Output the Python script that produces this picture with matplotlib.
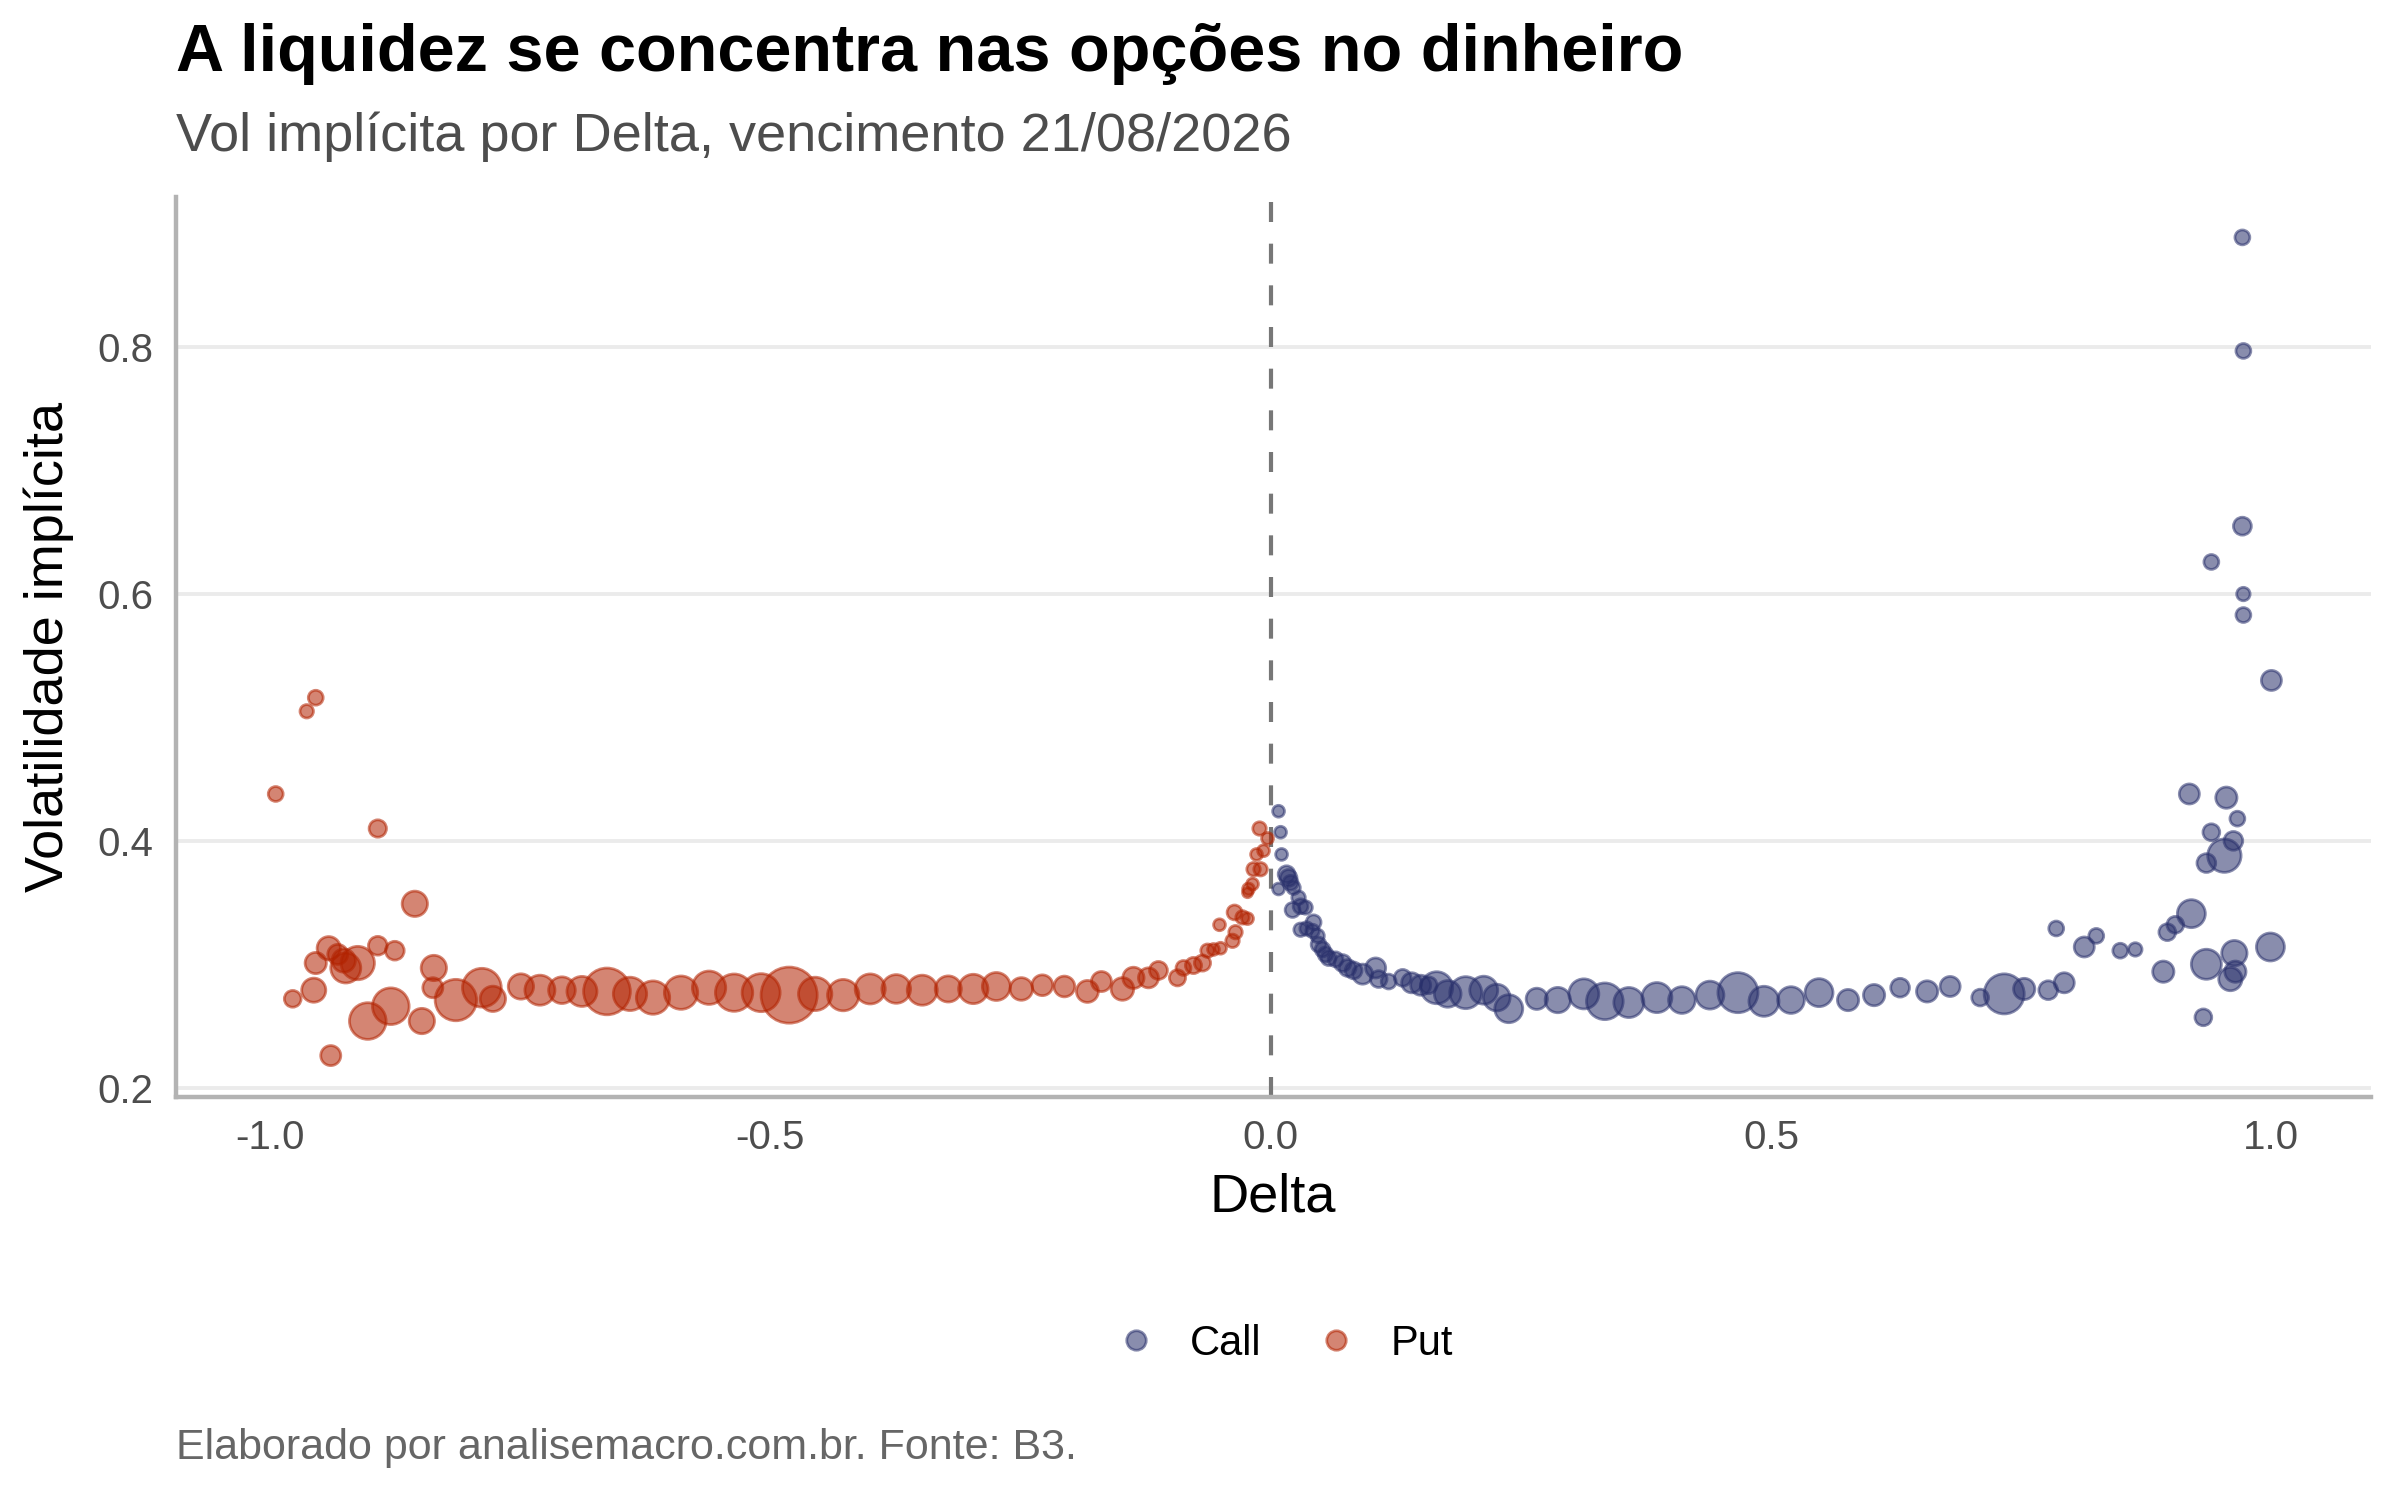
import numpy as np
import matplotlib.pyplot as plt

plt.rcParams['font.family'] = ['Liberation Sans', 'DejaVu Sans']

# Puts: delta, vol implicita, liquidez (numero de negocios, estimado)
put_delta = [-0.994, -0.977, -0.963, -0.956, -0.954, -0.954, -0.941, -0.939, -0.932, -0.926,
             -0.924, -0.912, -0.902, -0.892, -0.892, -0.879, -0.875, -0.855, -0.848, -0.837,
             -0.836, -0.814, -0.788, -0.777, -0.749, -0.730, -0.708, -0.688, -0.663, -0.640,
             -0.617, -0.589, -0.561, -0.536, -0.509, -0.481, -0.455, -0.427, -0.400, -0.374,
             -0.348, -0.322, -0.297, -0.274, -0.249, -0.228, -0.206, -0.183, -0.169, -0.148,
             -0.137, -0.122, -0.112, -0.093, -0.087, -0.077, -0.068, -0.063, -0.057, -0.050,
             -0.051, -0.038, -0.035, -0.036, -0.028, -0.023, -0.023, -0.022, -0.018, -0.017,
             -0.010, -0.014, -0.007, -0.003, -0.011]
put_iv = [0.438, 0.272, 0.505, 0.279, 0.516, 0.301, 0.313, 0.226, 0.308, 0.303,
          0.297, 0.301, 0.254, 0.410, 0.315, 0.266, 0.311, 0.349, 0.254, 0.281,
          0.297, 0.271, 0.281, 0.272, 0.282, 0.279, 0.279, 0.278, 0.278, 0.276,
          0.273, 0.277, 0.281, 0.277, 0.277, 0.275, 0.276, 0.275, 0.280, 0.280,
          0.279, 0.280, 0.280, 0.282, 0.280, 0.283, 0.282, 0.278, 0.286, 0.280,
          0.289, 0.289, 0.295, 0.289, 0.297, 0.299, 0.301, 0.311, 0.312, 0.313,
          0.332, 0.319, 0.326, 0.342, 0.338, 0.337, 0.358, 0.361, 0.365, 0.377,
          0.377, 0.389, 0.392, 0.402, 0.410]
put_liq = [22, 28, 18, 58, 22, 45, 54, 40, 40, 54,
           90, 111, 134, 30, 35, 134, 35, 64, 64, 40,
           64, 171, 150, 64, 64, 90, 71, 90, 218, 111,
           111, 111, 111, 139, 144, 314, 111, 98, 90, 82,
           90, 68, 86, 78, 51, 43, 43, 48, 40, 51,
           45, 40, 32, 26, 22, 26, 26, 18, 14, 14,
           14, 18, 18, 22, 18, 14, 10, 14, 14, 18,
           18, 14, 14, 14, 18]

# Calls
call_delta = [0.008, 0.010, 0.011, 0.008, 0.016, 0.018, 0.020, 0.023, 0.028, 0.022,
              0.030, 0.035, 0.030, 0.036, 0.043, 0.042, 0.047, 0.048, 0.052, 0.055,
              0.058, 0.065, 0.072, 0.077, 0.083, 0.092, 0.105, 0.108, 0.118, 0.132,
              0.141, 0.150, 0.158, 0.166, 0.177, 0.195, 0.213, 0.226, 0.238, 0.266,
              0.287, 0.313, 0.334, 0.358, 0.386, 0.411, 0.439, 0.467, 0.493, 0.520,
              0.548, 0.577, 0.603, 0.629, 0.656, 0.679, 0.709, 0.733, 0.753, 0.777,
              0.785, 0.793, 0.813, 0.825, 0.849, 0.864, 0.892, 0.896, 0.904, 0.918,
              0.920, 0.932, 0.935, 0.935, 0.940, 0.940, 0.953, 0.955, 0.959, 0.962,
              0.963, 0.964, 0.966, 0.971, 0.972, 0.971, 0.972, 0.972, 1.000, 0.999]
call_iv = [0.424, 0.407, 0.389, 0.361, 0.373, 0.370, 0.366, 0.362, 0.354, 0.344,
           0.347, 0.346, 0.328, 0.329, 0.334, 0.327, 0.323, 0.316, 0.312, 0.308,
           0.305, 0.304, 0.301, 0.297, 0.295, 0.292, 0.297, 0.288, 0.286, 0.289,
           0.285, 0.283, 0.283, 0.281, 0.276, 0.277, 0.279, 0.273, 0.264, 0.272,
           0.271, 0.276, 0.270, 0.269, 0.273, 0.271, 0.275, 0.277, 0.270, 0.271,
           0.277, 0.271, 0.275, 0.281, 0.278, 0.282, 0.273, 0.276, 0.280, 0.279,
           0.329, 0.285, 0.314, 0.323, 0.311, 0.312, 0.294, 0.326, 0.332, 0.438,
           0.341, 0.257, 0.300, 0.382, 0.407, 0.626, 0.388, 0.435, 0.288, 0.400,
           0.309, 0.294, 0.418, 0.889, 0.797, 0.655, 0.600, 0.583, 0.530, 0.314]
call_liq = [14, 14, 14, 14, 28, 28, 22, 18, 18, 22,
            22, 18, 18, 18, 22, 18, 18, 22, 22, 22,
            22, 22, 28, 28, 28, 40, 40, 28, 22, 28,
            40, 40, 28, 102, 71, 102, 78, 71, 78, 45,
            64, 90, 134, 90, 90, 71, 78, 160, 90, 71,
            78, 45, 45, 35, 45, 40, 28, 160, 45, 35,
            22, 40, 40, 22, 22, 18, 45, 28, 28, 40,
            78, 28, 90, 35, 28, 22, 111, 45, 54, 35,
            64, 45, 22, 22, 22, 32, 18, 22, 40, 78]

cor_call = '#282f6b'
cor_put = '#b22200'

fig = plt.figure(figsize=(12, 7.5), dpi=200)
ax = fig.add_axes([0.0733, 0.269, 0.9147, 0.6])

ax.axvline(0, color='#777777', lw=1.5, dashes=(4.8, 5.2), zorder=1)

ax.scatter(call_delta, call_iv, s=np.array(call_liq) * 1.3, color=cor_call,
           alpha=0.55, linewidths=1.0, zorder=3, label='Call')
ax.scatter(put_delta, put_iv, s=np.array(put_liq) * 1.3, color=cor_put,
           alpha=0.55, linewidths=1.0, zorder=3, label='Put')

# limites com expansao de 5%, como no ggplot
todos_x = np.array(call_delta + put_delta)
todos_y = np.array(call_iv + put_iv)
rx = todos_x.max() - todos_x.min()
ry = todos_y.max() - todos_y.min()
ax.set_xlim(todos_x.min() - 0.05 * rx, todos_x.max() + 0.05 * rx)
ax.set_ylim(todos_y.min() - 0.05 * ry, todos_y.max() + 0.05 * ry)

ax.set_xticks([-1.0, -0.5, 0.0, 0.5, 1.0])
ax.set_xticklabels(['-1.0', '-0.5', '0.0', '0.5', '1.0'])
ax.set_yticks([0.2, 0.4, 0.6, 0.8])
ax.set_yticklabels(['0.2', '0.4', '0.6', '0.8'])
ax.tick_params(length=0, labelsize=14.5, labelcolor='#4d4d4d', pad=8)

ax.grid(axis='y', color='#ebebeb', lw=1.4)
ax.set_axisbelow(True)
for lado in ['top', 'right']:
    ax.spines[lado].set_visible(False)
for lado in ['left', 'bottom']:
    ax.spines[lado].set_color('#b3b3b3')
    ax.spines[lado].set_linewidth(1.6)

fig.text(0.5305, 0.202, 'Delta', ha='center', va='center', fontsize=19.5)
fig.text(0.0204, 0.569, 'Volatilidade implícita', ha='center', va='center',
         rotation=90, fontsize=19.5)

fig.text(0.0733, 0.964, 'A liquidez se concentra nas opções no dinheiro',
         ha='left', va='center', fontsize=24, fontweight='bold')
fig.text(0.0733, 0.909, 'Vol implícita por Delta, vencimento 21/08/2026',
         ha='left', va='center', fontsize=19.5, color='#4d4d4d')
fig.text(0.0733, 0.035, 'Elaborado por analisemacro.com.br. Fonte: B3.',
         ha='left', va='center', fontsize=15.5, color='#666666')

leg_call = plt.Line2D([], [], marker='o', ls='', color=cor_call, alpha=0.55,
                      markersize=7, markeredgewidth=1.0)
leg_put = plt.Line2D([], [], marker='o', ls='', color=cor_put, alpha=0.55,
                     markersize=7, markeredgewidth=1.0)
fig.legend([leg_call, leg_put], ['Call', 'Put'], loc='center',
           bbox_to_anchor=(0.535, 0.104), ncol=2, frameon=False, fontsize=15,
           handletextpad=0.8, columnspacing=1.3, handlelength=1.0)

fig.savefig('out.png', dpi=200, facecolor='white')
